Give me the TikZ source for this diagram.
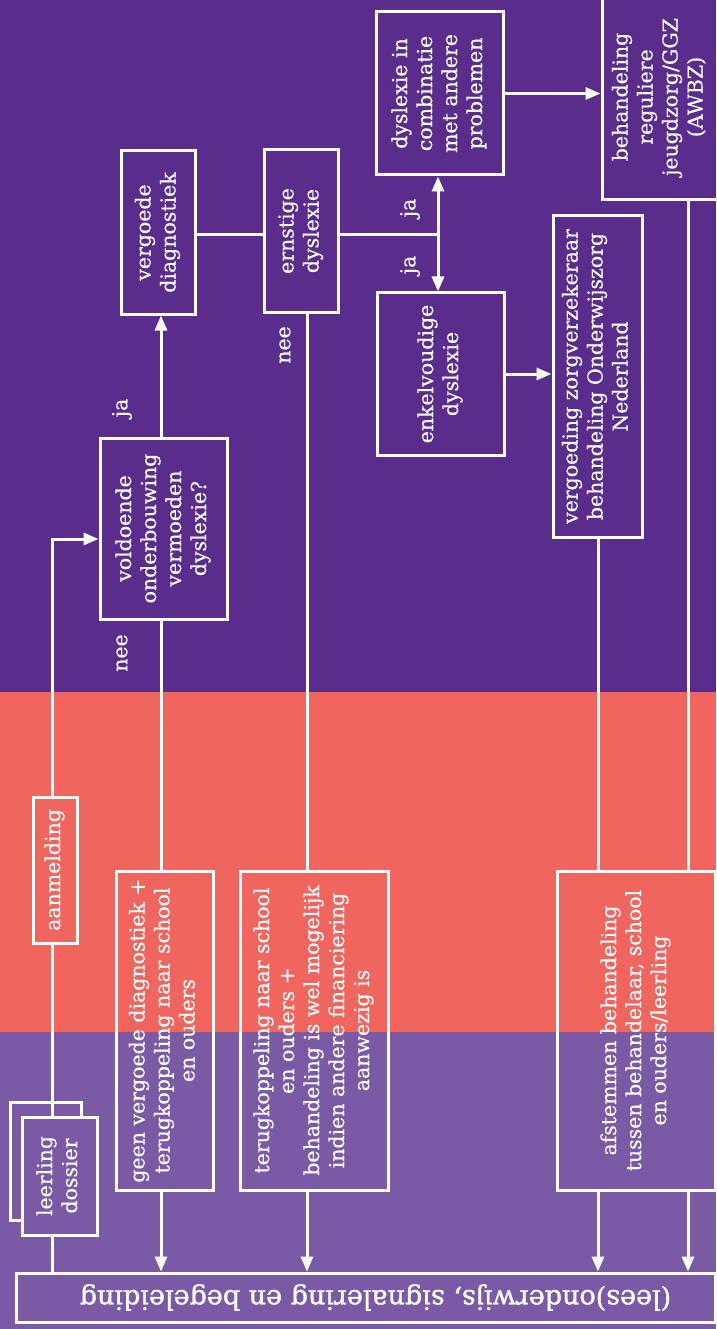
\documentclass[tikz,border=0pt]{standalone}
\usepackage{fontspec}
\setmainfont{DejaVu Serif}[FakeBold=0.3]
\newfontfamily\kopfont{DejaVu Serif}[FakeBold=1.2]
\usepackage{graphicx}
\usepackage{tikz}
\usetikzlibrary{arrows.meta,positioning}
\definecolor{paars}{HTML}{5A2D8C}
\definecolor{koraal}{HTML}{F0665E}
\definecolor{lila}{HTML}{7A5AA5}
% rotated, centred lines of text
\newcommand{\kantel}[1]{\rotatebox{90}{\begin{tabular}{@{}c@{}}#1\end{tabular}}}
\tikzset{
    %Define standard arrow tip
    >={Triangle[length=15pt,width=12pt]},
    %Define style for boxes
    kader/.style={
           rectangle,
           draw=white, line width=3pt,
           text=white,
           inner sep=0pt,
           font=\fontsize{20.5}{25}\selectfont},
    % Define style for ja/nee
    antwoord/.style={
           text=white,
           rotate=90,
           font=\fontsize{20.5}{25}\selectfont},
    % Define line and arrow style
    lijn/.style={draw=white, line width=3pt},
    pijl/.style={lijn, ->}
}
\begin{document}
\begin{tikzpicture}[x=1pt,y=-1pt]
\useasboundingbox (0,0) rectangle (716,1329);
\clip (0,0) rectangle (716,1329);
\fill[paars] (0,0) rectangle (716,692);
\fill[koraal] (0,692) rectangle (716,1032);
\fill[lila] (0,1032) rectangle (716,1329);
% columns of the connectors
\coordinate (colA) at (52,0);
\coordinate (colB) at (161,0);
\coordinate (colC) at (307,0);
\coordinate (colD) at (598,0);
\coordinate (colE) at (688,0);
\coordinate (split) at (438,235);
\coordinate (instap) at (52,539);
% boxes
\node[kader, minimum width=127pt, minimum height=181pt] (voldoende) at (163.5,528.5) {\kantel{voldoende\\onderbouwing\\vermoeden\\dyslexie?}};
\node[kader, minimum width=74pt, minimum height=163pt] (vergoede) at (158,232.5) {\kantel{vergoede\\diagnostiek}};
\node[kader, minimum width=74pt, minimum height=162pt] (ernstige) at (301,231) {\kantel{ernstige\\dyslexie}};
\node[kader, minimum width=127pt, minimum height=163pt] (combinatie) at (439.5,93.5) {\kantel{dyslexie in\\combinatie\\met andere\\problemen}};
\node[kader, minimum width=127pt, minimum height=162pt] (enkelvoudige) at (440.5,374) {\kantel{enkelvoudige\\dyslexie}};
\node[kader, minimum width=89pt, minimum height=321pt] (vergoeding) at (597.5,376.5) {\kantel{vergoeding zorgverzekeraar\\behandeling Onderwijszorg\\Nederland}};
\node[kader, minimum width=116pt, minimum height=206pt] (behandeling) at (660,97) {\kantel{behandeling\\reguliere\\jeugdzorg/GGZ\\(AWBZ)}};
\node[kader, minimum width=44pt, minimum height=146pt] (aanmelding) at (55,870) {\kantel{aanmelding}};
\node[kader, minimum width=97pt, minimum height=319pt] (geen) at (164.5,1030.5) {\kantel{geen vergoede diagnostiek +\\terugkoppeling naar school\\en ouders}};
\node[kader, minimum width=148pt, minimum height=319pt] (terug) at (314,1030.5) {\kantel{terugkoppeling naar school\\en ouders +\\behandeling is wel mogelijk\\indien andere financiering\\aanwezig is}};
\node[kader, minimum width=158pt, minimum height=319pt] (afstemmen) at (636,1030.5) {\kantel{afstemmen behandeling\\tussen behandelaar, school\\en ouders/leerling}};
\node[kader, fill=lila, minimum width=71pt, minimum height=118pt] (dossierachter) at (45.5,1161) {};
\node[kader, fill=lila, minimum width=75pt, minimum height=118pt] (dossier) at (59.5,1176) {\kantel{leerling\\dossier}};
\node[kader, minimum width=699pt, minimum height=49pt, font=\fontsize{27}{30}\kopfont] (lees) at (365.5,1297.5) {\rotatebox{180}{(lees)onderwijs, signalering en begeleiding\hspace*{20pt}}};
% ja / nee
\node[antwoord] (ja1) at (122,408) {ja};
\node[antwoord] (nee1) at (122,653) {nee};
\node[antwoord] (nee2) at (285,345) {nee};
\node[antwoord] (ja2) at (410,208) {ja};
\node[antwoord] (ja3) at (410,265) {ja};
% connectors
\draw[lijn] (lees.north -| colA) -- (dossier.south -| colA);
\draw[lijn] (dossier.north -| colA) -- (aanmelding.south -| colA);
\draw[pijl] (aanmelding.north -| instap) -- (instap) -- (instap -| voldoende.west);
\draw[pijl] (voldoende.north -| colB) -- (vergoede.south -| colB);
\draw[lijn] (voldoende.south -| colB) -- (geen.north -| colB);
\draw[pijl] (geen.south -| colB) -- (lees.north -| colB);
\draw[lijn] (vergoede.east |- split) -- (ernstige.west |- split);
\draw[lijn] (ernstige.east |- split) -- (split);
\draw[pijl] (split) -- (split |- combinatie.south);
\draw[pijl] (split) -- (split |- enkelvoudige.north);
\draw[lijn] (ernstige.south -| colC) -- (terug.north -| colC);
\draw[pijl] (terug.south -| colC) -- (lees.north -| colC);
\draw[pijl] (combinatie.east) -- (combinatie.east -| behandeling.west);
\draw[pijl] (enkelvoudige.east) -- (enkelvoudige.east -| vergoeding.west);
\draw[lijn] (vergoeding.south -| colD) -- (afstemmen.north -| colD);
\draw[lijn] (behandeling.south -| colE) -- (afstemmen.north -| colE);
\draw[pijl] (afstemmen.south -| colD) -- (lees.north -| colD);
\draw[pijl] (afstemmen.south -| colE) -- (lees.north -| colE);
\end{tikzpicture}
\end{document}
